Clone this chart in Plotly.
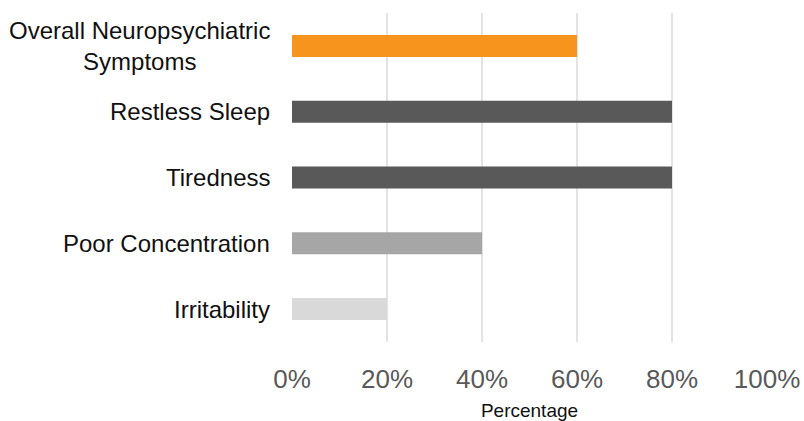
import plotly.graph_objects as go

# Share of patients reporting each symptom (listed top to bottom)
symptoms = [
    "Overall Neuropsychiatric<br>Symptoms",
    "Restless Sleep",
    "Tiredness",
    "Poor Concentration",
    "Irritability",
]
percentages = [60, 80, 80, 40, 20]
bar_colors = ["#F7941D", "#595959", "#595959", "#A6A6A6", "#D9D9D9"]
x_ticks = [0, 20, 40, 60, 80, 100]
x_tick_labels = ["0%", "20%", "40%", "60%", "80%", "100%"]

fig = go.Figure(
    go.Bar(
        x=percentages,
        y=symptoms,
        orientation="h",
        width=0.335,
        marker=dict(color=bar_colors, line=dict(width=0)),
        hoverinfo="skip",
    )
)

# Category labels as annotations so multi-line labels stay centred
for name in symptoms:
    fig.add_annotation(
        x=0, y=name, xref="paper", yref="y",
        text=name, showarrow=False,
        xanchor="right", yanchor="middle", align="center",
        xshift=-20,
        font=dict(family="Liberation Sans, Arial, sans-serif", size=24, color="#111111"),
    )

fig.update_layout(
    width=804,
    height=421,
    margin=dict(l=292, r=37, t=13, b=79, autoexpand=False),
    paper_bgcolor="white",
    plot_bgcolor="white",
    showlegend=False,
    bargap=0.665,
    xaxis=dict(
        range=[0, 100],
        tickvals=x_ticks,
        ticktext=x_tick_labels,
        automargin=False,
        showgrid=True,
        gridcolor="#E3E3E3",
        gridwidth=1.5,
        zeroline=False,
        showline=False,
        ticks="",
        ticklabelstandoff=19,
        tickfont=dict(family="Liberation Sans, Arial, sans-serif", size=26, color="#595959"),
        title=dict(
            text="Percentage",
            standoff=12,
            font=dict(family="Liberation Sans, Arial, sans-serif", size=19, color="#111111"),
        ),
    ),
    yaxis=dict(
        categoryorder="array",
        categoryarray=symptoms[::-1],
        showticklabels=False,
        automargin=False,
        showgrid=False,
        zeroline=False,
        showline=False,
        ticks="",
    ),
)

fig.write_html("out.html")
